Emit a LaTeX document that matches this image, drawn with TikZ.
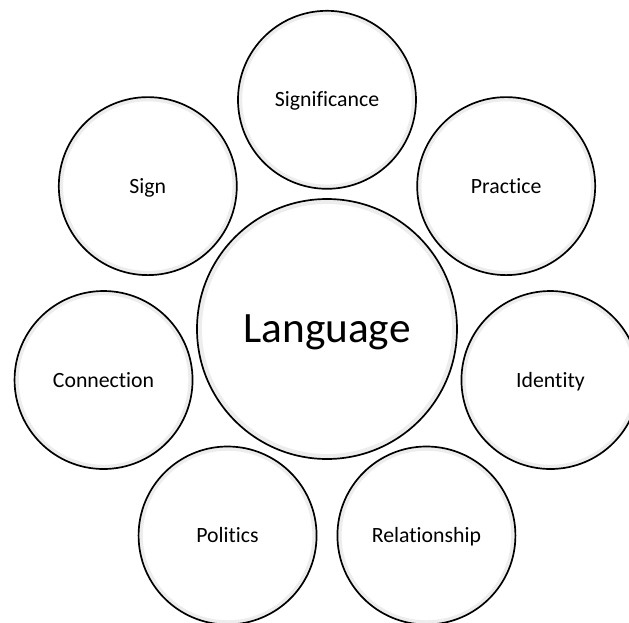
\documentclass[tikz,border=0pt]{standalone}
\usepackage{fontspec}
\setmainfont{Carlito}[Ligatures=NoCommon]
\usepackage{tikz}

\tikzset{
  bubble/.style={circle, draw=black, line width=1.2pt, fill=white, inner sep=0pt,
    minimum size=4.45cm, text height=10pt, text depth=0pt,
    font=\fontsize{15.5}{18}\selectfont,
    path picture={\draw[black!7, line width=6pt] (path picture bounding box.center) circle[radius=2.225cm];}},
  hub/.style={bubble, minimum size=6.5cm, text height=19.8pt,
    font=\fontsize{30.8}{36}\selectfont,
    path picture={\draw[black!7, line width=7pt] (path picture bounding box.center) circle[radius=3.25cm];}}
}

\begin{document}
\begin{tikzpicture}
			\useasboundingbox (-8.175,-7.325) rectangle (7.55,8.225);

			% centre circle
			\node[hub] (lang) at (0,0) {Language};

			% seven circles round it, 360/7 degrees apart, radius 5.73
			\node[bubble] (signif) at (90:5.73) {Significance};
			\node[bubble] (pract) at (38.57:5.73) {Practice};
			\node[bubble] (ident) at (-12.86:5.73) {Identity};
			\node[bubble] (relat) at (-64.29:5.73) {Relationship};
			\node[bubble] (polit) at (-115.71:5.73) {Politics};
			\node[bubble] (conn) at (-167.14:5.73) {Connection};
			\node[bubble] (sign) at (141.43:5.73) {Sign};
		\end{tikzpicture}
\end{document}
